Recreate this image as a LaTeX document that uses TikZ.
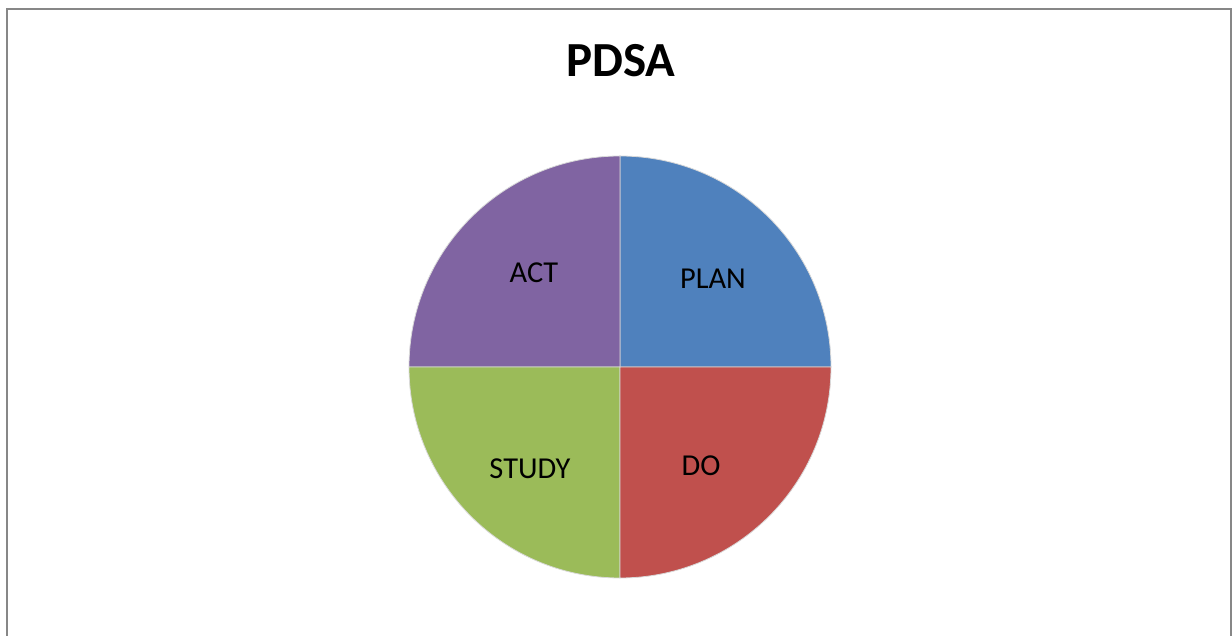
\documentclass[tikz,border=0pt]{standalone}
\usepackage{fontspec}
\setmainfont{Carlito}
\usetikzlibrary{positioning}

\definecolor{planblue}{HTML}{4F81BD}
\definecolor{dored}{HTML}{C0504D}
\definecolor{studygreen}{HTML}{9BBB59}
\definecolor{actpurple}{HTML}{8064A2}
\definecolor{framegray}{HTML}{878787}

\begin{document}
\begin{tikzpicture}[
   x=0.5pt, y=0.5pt,
   slice/.style={draw=white!85!black, line width=0.4pt},
   lbl/.style={font=\fontsize{15.2}{18}\selectfont},
   frame/.style={draw=framegray, line width=1.3pt}]
  \useasboundingbox (0,0) rectangle (1232,636);
  \path[frame] (7,0) |- (1231,627) -- (1231,0);
  \coordinate (c) at (620,269);
  % the four quarters, anticlockwise from the right
  \filldraw[slice, fill=planblue] (c) -- +(0:211)
    arc[start angle=0, end angle=90, radius=211] -- cycle;
  \filldraw[slice, fill=actpurple] (c) -- +(90:211)
    arc[start angle=90, end angle=180, radius=211] -- cycle;
  \filldraw[slice, fill=studygreen] (c) -- +(180:211)
    arc[start angle=180, end angle=270, radius=211] -- cycle;
  \filldraw[slice, fill=dored] (c) -- +(270:211)
    arc[start angle=270, end angle=360, radius=211] -- cycle;
  \node[font=\fontsize{24.5}{29}\selectfont\bfseries] (title) at (621,575) {PDSA};
  \node[lbl] (plan) at (713,357) {PLAN};
  \node[lbl] (act) at (534,363) {ACT};
  \node[lbl] (study) at (530,167) {STUDY};
  \node[lbl] (do) at (701,170) {DO};
\end{tikzpicture}
\end{document}
